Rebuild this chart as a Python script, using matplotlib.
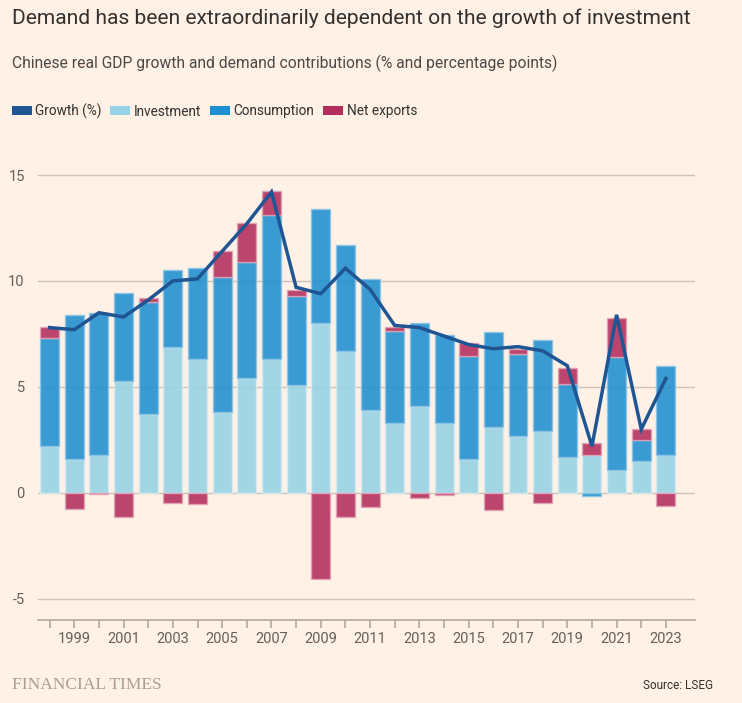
import matplotlib
matplotlib.use('Agg')
import matplotlib.pyplot as plt
from matplotlib.patches import Rectangle
import numpy as np

# ---------------- data ----------------
years = list(range(1998, 2024))
growth = [7.8, 7.7, 8.5, 8.3, 9.1, 10.0, 10.1, 11.4, 12.7, 14.2, 9.7, 9.4, 10.6,
          9.6, 7.9, 7.8, 7.4, 7.0, 6.8, 6.9, 6.7, 6.0, 2.2, 8.4, 3.0, 5.4]
investment = [2.2, 1.6, 1.8, 5.3, 3.7, 6.9, 6.3, 3.8, 5.4, 6.3, 5.1, 8.0, 6.7,
              3.9, 3.3, 4.1, 3.3, 1.6, 3.1, 2.7, 2.9, 1.7, 1.8, 1.1, 1.5, 1.8]
consumption = [5.1, 6.8, 6.7, 4.15, 5.3, 3.6, 4.3, 6.4, 5.5, 6.8, 4.2, 5.4, 5.0,
               6.2, 4.35, 3.9, 4.15, 4.85, 4.5, 3.85, 4.3, 3.45, -0.16, 5.3, 1.0, 4.2]
net_exports = [0.53, -0.75, -0.05, -1.13, 0.18, -0.5, -0.52, 1.2, 1.85, 1.13, 0.27,
               -4.05, -1.15, -0.66, 0.2, -0.25, -0.1, 0.63, -0.82, 0.25, -0.5, 0.74,
               0.56, 1.84, 0.51, -0.6]
legend_labels = ["Growth (%)", "Investment", "Consumption", "Net exports"]
yticks = [-5, 0, 5, 10, 15]
xtick_labels = [str(y) if y % 2 == 1 else "" for y in years]

title = "Demand has been extraordinarily dependent on the growth of investment"
subtitle = "Chinese real GDP growth and demand contributions (% and percentage points)"
source = "Source: LSEG"

# ---------------- style ----------------
BG = "#fff1e5"
C_GROWTH = "#1e5592"
C_INV = "#96d3e6"
C_CONS = "#1e8fd0"
C_NX = "#b32d5d"
BAR_ALPHA = 0.88
E_INV = "#d6edf3"
E_CONS = "#8cc4e6"
E_NX = "#e2a3b7"
GRID = "#cfc3b9"
AXIS = "#b3a89f"
TXT = "#33302e"
SUB = "#4d4845"
TICK = "#66605c"

plt.rcParams['font.family'] = ['Roboto', 'DejaVu Sans']

W, H = 742, 703
fig = plt.figure(figsize=(W / 100, H / 100), dpi=100, facecolor=BG)


def fx(x):
    return x / W


def fy(y):
    return 1 - y / H


ax_left, ax_right, ax_top, ax_bot = 38, 695, 150, 620
ax = fig.add_axes([fx(ax_left), fy(ax_bot), (ax_right - ax_left) / W, (ax_bot - ax_top) / H])
ax.set_facecolor(BG)

x = np.array(years)
width = 0.77
pos_base = np.zeros(len(years))
neg_base = np.zeros(len(years))
for vals, col, ec in [(investment, C_INV, E_INV), (consumption, C_CONS, E_CONS),
                      (net_exports, C_NX, E_NX)]:
    v = np.array(vals, dtype=float)
    bottoms = np.where(v >= 0, pos_base, neg_base)
    ax.bar(x, v, width=width, bottom=bottoms, color=col, alpha=BAR_ALPHA,
           edgecolor=ec, linewidth=1.0, zorder=2)
    pos_base = pos_base + np.where(v >= 0, v, 0)
    neg_base = neg_base + np.where(v < 0, v, 0)

ax.plot(x, growth, color=C_GROWTH, lw=2.5, zorder=3, solid_joinstyle='miter')

ax.set_xlim(1997.53, 2024.18)
ax.set_ylim(-6.0, 15 + 25 / 21.19)
ax.set_yticks(yticks)
ax.set_yticklabels([str(t) for t in yticks])
ax.set_xticks(years)
ax.set_xticklabels(xtick_labels)
ax.grid(axis='y', color=GRID, lw=1.0, zorder=0)
ax.set_axisbelow(True)
for s in ['top', 'right', 'left']:
    ax.spines[s].set_visible(False)
ax.spines['bottom'].set_color(AXIS)
ax.spines['bottom'].set_linewidth(1.2)
ax.tick_params(axis='y', length=0, pad=9.5, labelsize=10.5, labelcolor=TICK)
ax.tick_params(axis='x', length=6, width=1.2, color=AXIS, pad=2.5, labelsize=10.5,
               labelcolor=TICK)

# ---------------- texts ----------------
fig.canvas.draw()
r = fig.canvas.get_renderer()


def fit(t, target):
    w = t.get_window_extent(r).width
    t.set_fontsize(t.get_fontsize() * target / w)


t1 = fig.text(fx(12), fy(24), title, fontsize=14.5, color=TXT, va='baseline', ha='left')
fit(t1, 676)
t2 = fig.text(fx(12), fy(68), subtitle, fontsize=11, color=SUB, va='baseline', ha='left')
fit(t2, 540)

# legend: (swatch left, text left, target text width)
legend_colors = [C_GROWTH, C_INV, C_CONS, C_NX]
legend_swatch_x = [12, 110, 210, 323.3]
legend_text_x = [35.3, 133.3, 233.3, 346.7]
legend_text_w = [66.4, 68.4, 80.0, 70.6]
sizes = []
for lab, tw in zip(legend_labels, legend_text_w):
    p = fig.text(0, 0, lab, fontsize=10)
    sizes.append(10 * tw / p.get_window_extent(r).width)
    p.remove()
leg_fs = float(np.mean(sizes))
for lab, col, sx, tx in zip(legend_labels, legend_colors, legend_swatch_x, legend_text_x):
    fig.patches.append(Rectangle((fx(sx), fy(114.5)), 20 / W, 8.5 / H,
                                 transform=fig.transFigure, facecolor=col, edgecolor='none'))
    fig.text(fx(tx), fy(115.5), lab, fontsize=leg_fs, color=TXT, va='baseline', ha='left')

t3 = fig.text(fx(12), fy(689), "FINANCIAL TIMES", fontsize=12,
              family=['Liberation Serif', 'DejaVu Serif'], color="#a89e96",
              va='baseline', ha='left')
fit(t3, 149)
t4 = fig.text(fx(713), fy(689), source, fontsize=9.5, color=TXT, va='baseline', ha='right')
fit(t4, 71)

fig.savefig("out.png", dpi=100, facecolor=BG)
